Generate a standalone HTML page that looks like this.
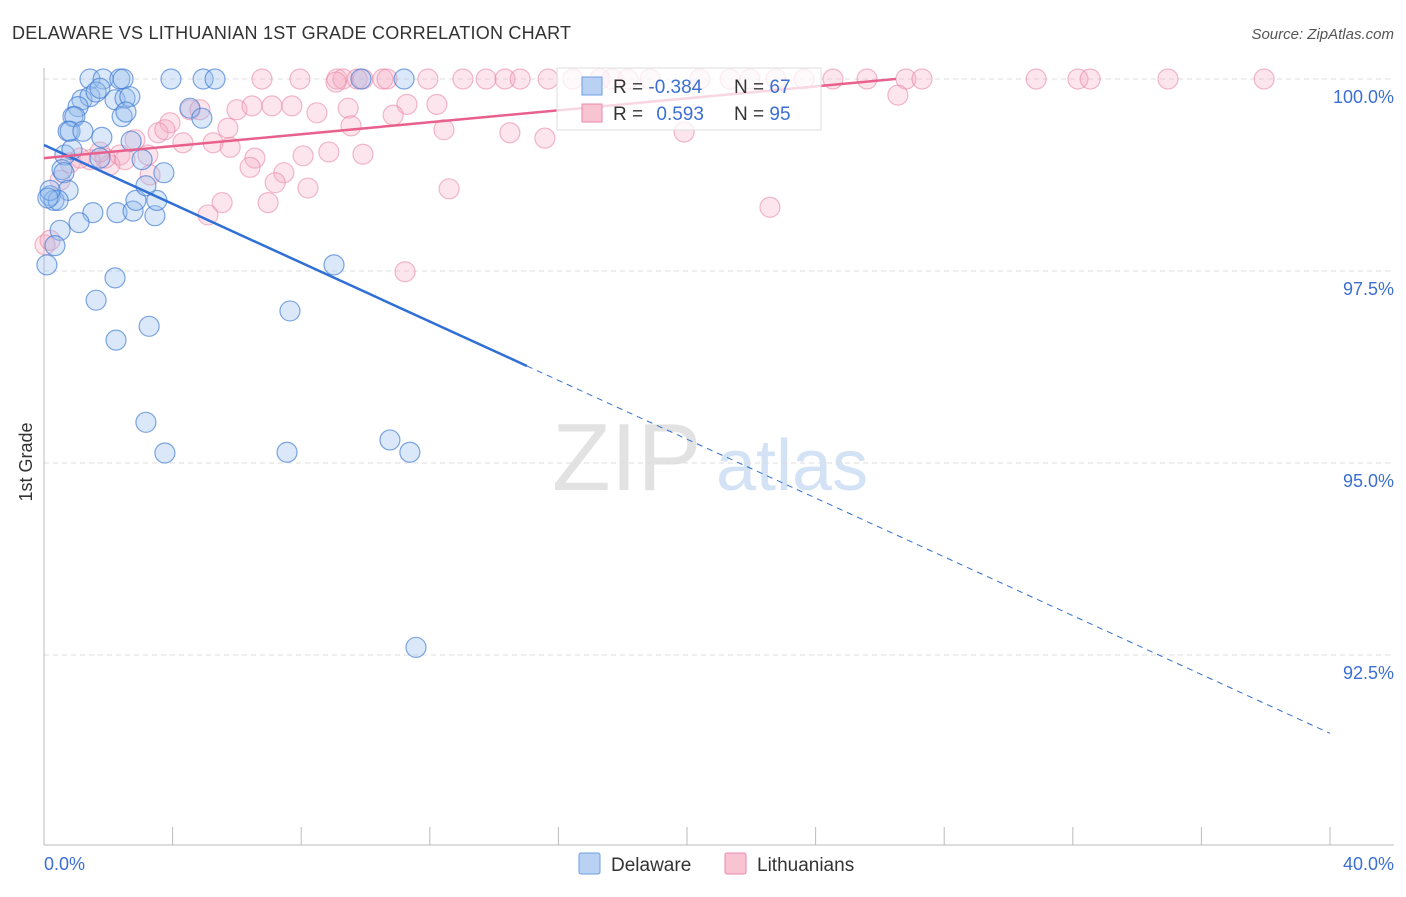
<!DOCTYPE html>
<html><head><meta charset="utf-8"><style>
body{margin:0;background:#fff;font-family:"Liberation Sans",sans-serif;}
svg text{font-family:"Liberation Sans",sans-serif;}
</style></head><body>
<svg id="chart" width="1406" height="892" xmlns="http://www.w3.org/2000/svg">
<text x="12" y="39" font-size="18" fill="#333" textLength="559">DELAWARE VS LITHUANIAN 1ST GRADE CORRELATION CHART</text>
<text x="1394" y="39" font-size="15" fill="#555" text-anchor="end" font-style="italic">Source: ZipAtlas.com</text>
<text x="32" y="462" font-size="18" fill="#333" transform="rotate(-90 32 462)" text-anchor="middle">1st Grade</text>
<g><text x="552" y="490" font-size="96" fill="#e2e2e2" font-family="Liberation Serif, serif">ZIP</text><text x="716" y="490" font-size="72" fill="#d3e2f5">atlas</text></g>
<g id="grid"></g><g id="axes"></g><g id="marks"></g><g id="fits"></g>
<g>
<rect x="557" y="68" width="264" height="62" fill="#fff" fill-opacity="0.75" stroke="#ddd"/>
<rect x="582" y="77" width="20" height="18" fill="#b9d2f3" stroke="#6d9fe0"/>
<rect x="582" y="104" width="20" height="18" fill="#f8c3d3" stroke="#ea8aa8"/>
<text x="613" y="93" font-size="19" fill="#333">R = <tspan fill="#3b6fd4">-0.384</tspan></text>
<text x="734" y="93" font-size="19" fill="#333">N = <tspan fill="#3b6fd4">67</tspan></text>
<text x="613" y="120" font-size="19" fill="#333">R = <tspan fill="#3b6fd4" dx="8">0.593</tspan></text>
<text x="734" y="120" font-size="19" fill="#333">N = <tspan fill="#3b6fd4">95</tspan></text>
</g>
<g>
<rect x="579" y="853" width="21" height="21" fill="#b9d2f3" stroke="#6d9fe0" rx="2"/>
<text x="611" y="871" font-size="19" fill="#333">Delaware</text>
<rect x="725" y="853" width="21" height="21" fill="#f8c3d3" stroke="#ea8aa8" rx="2"/>
<text x="757" y="871" font-size="19" fill="#333">Lithuanians</text>
</g>
</svg>
<script>
const blueX=[1.43,1.84,2.36,2.46,3.95,4.95,5.32,9.86,11.2,1.18,1.43,1.62,1.74,2.21,2.52,2.67,1.06,0.90,0.96,0.75,0.81,1.21,1.80,2.43,2.55,0.65,0.87,1.74,3.05,4.54,4.91,2.71,3.73,0.56,0.62,0.75,0.19,0.31,0.44,0.19,1.52,1.09,2.27,2.77,3.45,2.86,3.51,3.17,0.50,0.34,0.09,2.21,1.62,3.27,2.24,7.65,9.02,3.17,3.76,7.56,10.76,11.38,11.57,0.12];
const blueY=[100,100,100,100,100,100,100,100,100,99.73,99.77,99.83,99.88,99.73,99.75,99.77,99.64,99.51,99.51,99.32,99.32,99.32,99.24,99.51,99.57,99.01,99.08,98.97,98.95,99.62,99.49,99.19,98.78,98.82,98.78,98.55,98.48,98.42,98.42,98.55,98.26,98.13,98.26,98.28,98.22,98.42,98.42,98.61,98.03,97.83,97.58,97.41,97.12,96.78,96.60,96.98,97.58,95.53,95.13,95.14,95.30,95.14,92.60,98.45];
const pinkX=[6.78,7.96,9.11,9.30,9.74,9.92,10.54,10.67,11.94,13.03,13.75,14.34,14.81,15.68,16.45,17.29,17.67,18.16,18.85,20.40,21.34,21.96,22.77,23.64,24.54,25.6,26.81,27.31,30.86,32.16,32.54,34.96,37.95,26.56,4.54,4.85,6.0,6.47,7.09,7.71,8.49,9.46,11.29,12.22,10.86,9.55,12.44,14.49,15.58,19.91,3.92,3.55,3.76,4.32,5.26,5.72,5.79,6.56,6.41,8.06,8.86,9.92,7.46,7.19,8.21,6.97,12.6,5.54,5.1,11.23,22.58,3.23,2.83,2.36,2.05,1.43,0.81,0.5,1.9,2.52,3.3,1.74,1.12,0.03,0.19,9.08];
const pinkY=[100,100,100,100,100,100,100,100,100,100,100,100,100,100,100,100,100,100,100,100,100,100,100,100,100,100,100,100,100,100,100,100,100,99.79,99.6,99.6,99.6,99.65,99.65,99.65,99.56,99.62,99.67,99.67,99.53,99.39,99.34,99.3,99.23,99.31,99.43,99.3,99.34,99.17,99.17,99.36,99.11,98.97,98.85,99.0,99.05,99.02,98.78,98.65,98.58,98.39,98.57,98.39,98.23,97.49,98.33,99.01,99.21,99.01,98.88,98.95,98.91,98.68,98.97,98.95,98.75,99.05,98.97,97.84,97.9,99.96];
const yTicks=[100,97.5,95,92.5];
const yTickLabels=["100.0%","97.5%","95.0%","92.5%"];
const xTicks=[0,4,8,12,16,20,24,28,32,36,40];
const blueFit=[99.14,-0.1915]; // intercept, slope
const blueSolidEnd=15.02;
const pinkFit=[98.97,0.0389];
const pinkFitEnd=26.5;

const NS="http://www.w3.org/2000/svg";
const sx=v=>44+v*32.15;
const sy=v=>79+(100-v)*76.8;
function mk(tag,attrs,parent){const e=document.createElementNS(NS,tag);for(const k in attrs)e.setAttribute(k,attrs[k]);document.getElementById(parent).appendChild(e);return e;}
yTicks.forEach((t,i)=>{
  const g=mk('line',{x1:44,x2:1394,y1:sy(t),y2:sy(t),stroke:'#ddd','stroke-dasharray':'5,4'},'grid');
  
  
  const l=mk('text',{x:1394,y:sy(t)+24,'font-size':18,fill:'#3b6fd4','text-anchor':'end'},'grid');
  l.textContent=yTickLabels[i];
  
  
});
const ax=mk('line',{x1:44,x2:1394,y1:845,y2:845,stroke:'#bbb'},'axes');


const ay=mk('line',{x1:44,x2:44,y1:68,y2:845,stroke:'#bbb'},'axes');


xTicks.forEach(t=>{
  const k=mk('line',{x1:sx(t),x2:sx(t),y1:827,y2:845,stroke:'#bbb'},'axes');
  
  
});
const xl0=mk('text',{x:44,y:870,'font-size':18,fill:'#3b6fd4'},'axes');xl0.textContent=xTicks[0].toFixed(1)+'%';


const xl1=mk('text',{x:1394,y:870,'font-size':18,fill:'#3b6fd4','text-anchor':'end'},'axes');xl1.textContent=xTicks[xTicks.length-1].toFixed(1)+'%';


pinkX.forEach((x,i)=>{
  const c=mk('circle',{cx:sx(x),cy:sy(pinkY[i]),r:10,fill:'rgba(244,170,195,0.3)',stroke:'rgba(232,130,160,0.55)','stroke-width':1.2},'marks');
  
  
});
blueX.forEach((x,i)=>{
  const c=mk('circle',{cx:sx(x),cy:sy(blueY[i]),r:10,fill:'rgba(150,188,238,0.35)',stroke:'rgba(60,120,210,0.65)','stroke-width':1.2},'marks');
  
  
});
const bf=x=>blueFit[0]+blueFit[1]*x;
const b1=mk('line',{x1:sx(0),y1:sy(bf(0)),x2:sx(blueSolidEnd),y2:sy(bf(blueSolidEnd)),stroke:'#2f6fd6','stroke-width':2.5},'fits');


const b2=mk('line',{x1:sx(blueSolidEnd),y1:sy(bf(blueSolidEnd)),x2:sx(40),y2:sy(bf(40)),stroke:'#2f6fd6','stroke-width':1,'stroke-dasharray':'6,5'},'fits');


const pf=x=>pinkFit[0]+pinkFit[1]*x;
const p1=mk('line',{x1:sx(0),y1:sy(pf(0)),x2:sx(pinkFitEnd),y2:sy(pf(pinkFitEnd)),stroke:'#e8608c','stroke-width':2.5},'fits');


</script>
</body></html>
